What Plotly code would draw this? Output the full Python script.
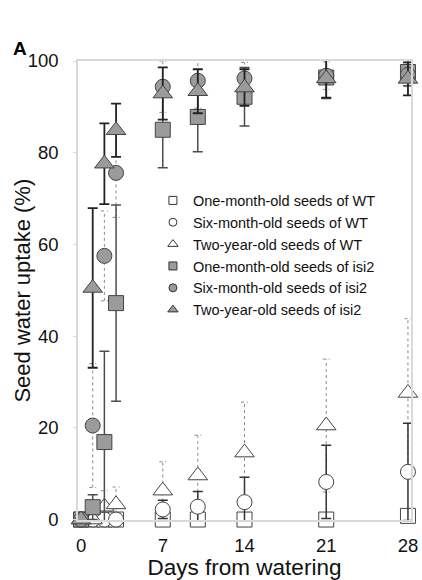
import plotly.graph_objects as go

days = [0, 1, 2, 3, 7, 10, 14, 21, 28]

wt_1m = [0, 0, 0, 0, 0, 0, 0, 0, 0.8]
wt_1m_err = [0, 0, 0, 0, 0, 0, 0, 0, 1.0]
wt_6m = [0, 0, 0, 0, 2.2, 2.8, 3.8, 8.2, 10.4]
wt_6m_err = [0, 0, 0, 0, 2.0, 3.3, 5.4, 8.0, 10.6]
wt_2y = [0, 0, 2.8, 3.3, 6.3, 9.6, 14.6, 20.5, 27.6]
wt_2y_err = [0, 0, 3.5, 3.8, 6.3, 8.8, 11.0, 14.5, 16.2]
isi_1m = [0, 2.7, 16.9, 47.2, 85.0, 87.8, 92.2, 96.4, 97.6]
isi_1m_err = [0, 2.7, 19.8, 21.4, 8.3, 7.6, 6.4, 4.6, 3.0]
isi_6m = [0, 20.5, 57.5, 75.6, 94.4, 95.7, 96.2, 96.8, 97.0]
isi_6m_err = [0, 13.5, 9.8, 9.7, 5.6, 6.0, 3.5, 3.0, 2.6]
isi_2y = [0, 50.5, 77.6, 84.9, 92.9, 93.4, 94.2, 96.2, 96.1]
isi_2y_err = [0, 17.4, 8.8, 5.8, 5.7, 4.8, 4.0, 4.2, 3.6]

names = [
    "One-month-old seeds of WT",
    "Six-month-old seeds of WT",
    "Two-year-old seeds of WT",
    "One-month-old seeds of isi2",
    "Six-month-old seeds of isi2",
    "Two-year-old seeds of isi2",
]

# (values, errors, symbol, fill, error colour, error width, dotted?)
series = [
    (wt_1m, wt_1m_err, "square", "white", "#333333", 1.0, False),
    (wt_6m, wt_6m_err, "circle", "white", "#333333", 1.5, False),
    (wt_2y, wt_2y_err, "triangle-up", "white", "#8a8a8a", 1.0, True),
    (isi_1m, isi_1m_err, "square", "#9b9b9b", "#4d4d4d", 1.5, False),
    (isi_6m, isi_6m_err, "circle", "#9b9b9b", "#8a8a8a", 1.0, True),
    (isi_2y, isi_2y_err, "triangle-up", "#9b9b9b", "#222222", 1.8, False),
]

CAP = 0.3  # half cap width in days

fig = go.Figure()

# dotted error bars drawn as line traces (behind markers)
for name, (vals, errs, sym, fill, ecol, ew, dotted) in zip(names, series):
    if not dotted:
        continue
    xs, ys = [], []
    for d, v, e in zip(days, vals, errs):
        if e <= 0:
            continue
        xs += [d, d, None, d - CAP, d + CAP, None, d - CAP, d + CAP, None]
        ys += [v - e, v + e, None, v + e, v + e, None, v - e, v - e, None]
    fig.add_trace(go.Scatter(
        x=xs, y=ys, mode="lines", showlegend=False, hoverinfo="skip",
        cliponaxis=False,
        line=dict(color=ecol, width=ew, dash="dot"),
    ))

for name, (vals, errs, sym, fill, ecol, ew, dotted) in zip(names, series):
    err = dict(visible=False) if dotted else dict(
        type="data", array=errs, visible=True, color=ecol, thickness=ew, width=5)
    fig.add_trace(go.Scatter(
        x=days, y=vals, mode="markers", name=name,
        cliponaxis=False, showlegend=False,
        error_y=err,
        marker=dict(symbol=sym, size=15 if sym != "triangle-up" else 17,
                    color=fill, line=dict(color="#444444", width=1)),
    ))

# legend-only entries with small symbols
for name, (vals, errs, sym, fill, ecol, ew, dotted) in zip(names, series):
    fig.add_trace(go.Scatter(
        x=[None], y=[None], mode="markers", name=name, showlegend=True,
        marker=dict(symbol=sym, size=8 if sym != "triangle-up" else 9,
                    color=fill, line=dict(color="#333333", width=1)),
    ))

fig.update_layout(
    width=422, height=580,
    margin=dict(l=78, r=11, t=61, b=60, autoexpand=False),
    paper_bgcolor="white", plot_bgcolor="white",
    font=dict(family="Liberation Sans, Arial, sans-serif", color="#111111"),
    showlegend=True,
    legend=dict(x=0.225, y=0.731, xanchor="left", yanchor="top",
                bgcolor="rgba(0,0,0,0)", font=dict(size=14.5),
                itemsizing="trace", itemwidth=30, tracegroupgap=0),
)
fig.add_annotation(text="<b>A</b>", xref="paper", yref="paper",
                   x=-0.2, y=1.028, xanchor="left", yanchor="middle",
                   showarrow=False, font=dict(size=19, color="black"))
fig.add_annotation(text="Seed water uptake (%)", xref="paper", yref="paper",
                   x=-0.168, y=0.5, xanchor="center", yanchor="middle",
                   textangle=-90, showarrow=False,
                   font=dict(size=22, color="#111111"))

fig.update_xaxes(
    range=[-0.26, 28.26], tickvals=[0, 7, 14, 21, 28], automargin=False,
    showline=True, linecolor="#d9d9d9", linewidth=1.5, mirror=True,
    showgrid=False, zeroline=False, ticks="",
    tickfont=dict(size=18.5), ticklabelstandoff=8,
    title=dict(text="Days from watering", font=dict(size=22.5), standoff=2),
)
fig.update_yaxes(
    range=[-0.1, 100], tickvals=[0, 20, 40, 60, 80, 100], automargin=False,
    showline=True, linecolor="#d9d9d9", linewidth=1.5, mirror=True,
    showgrid=False, zeroline=False, ticks="outside", ticklen=3,
    tickcolor="#d9d9d9",
    tickfont=dict(size=18.5), ticklabelstandoff=11,
)

fig.write_html("out.html", config={"displayModeBar": False},
               post_script="document.body.style.margin='0';")
